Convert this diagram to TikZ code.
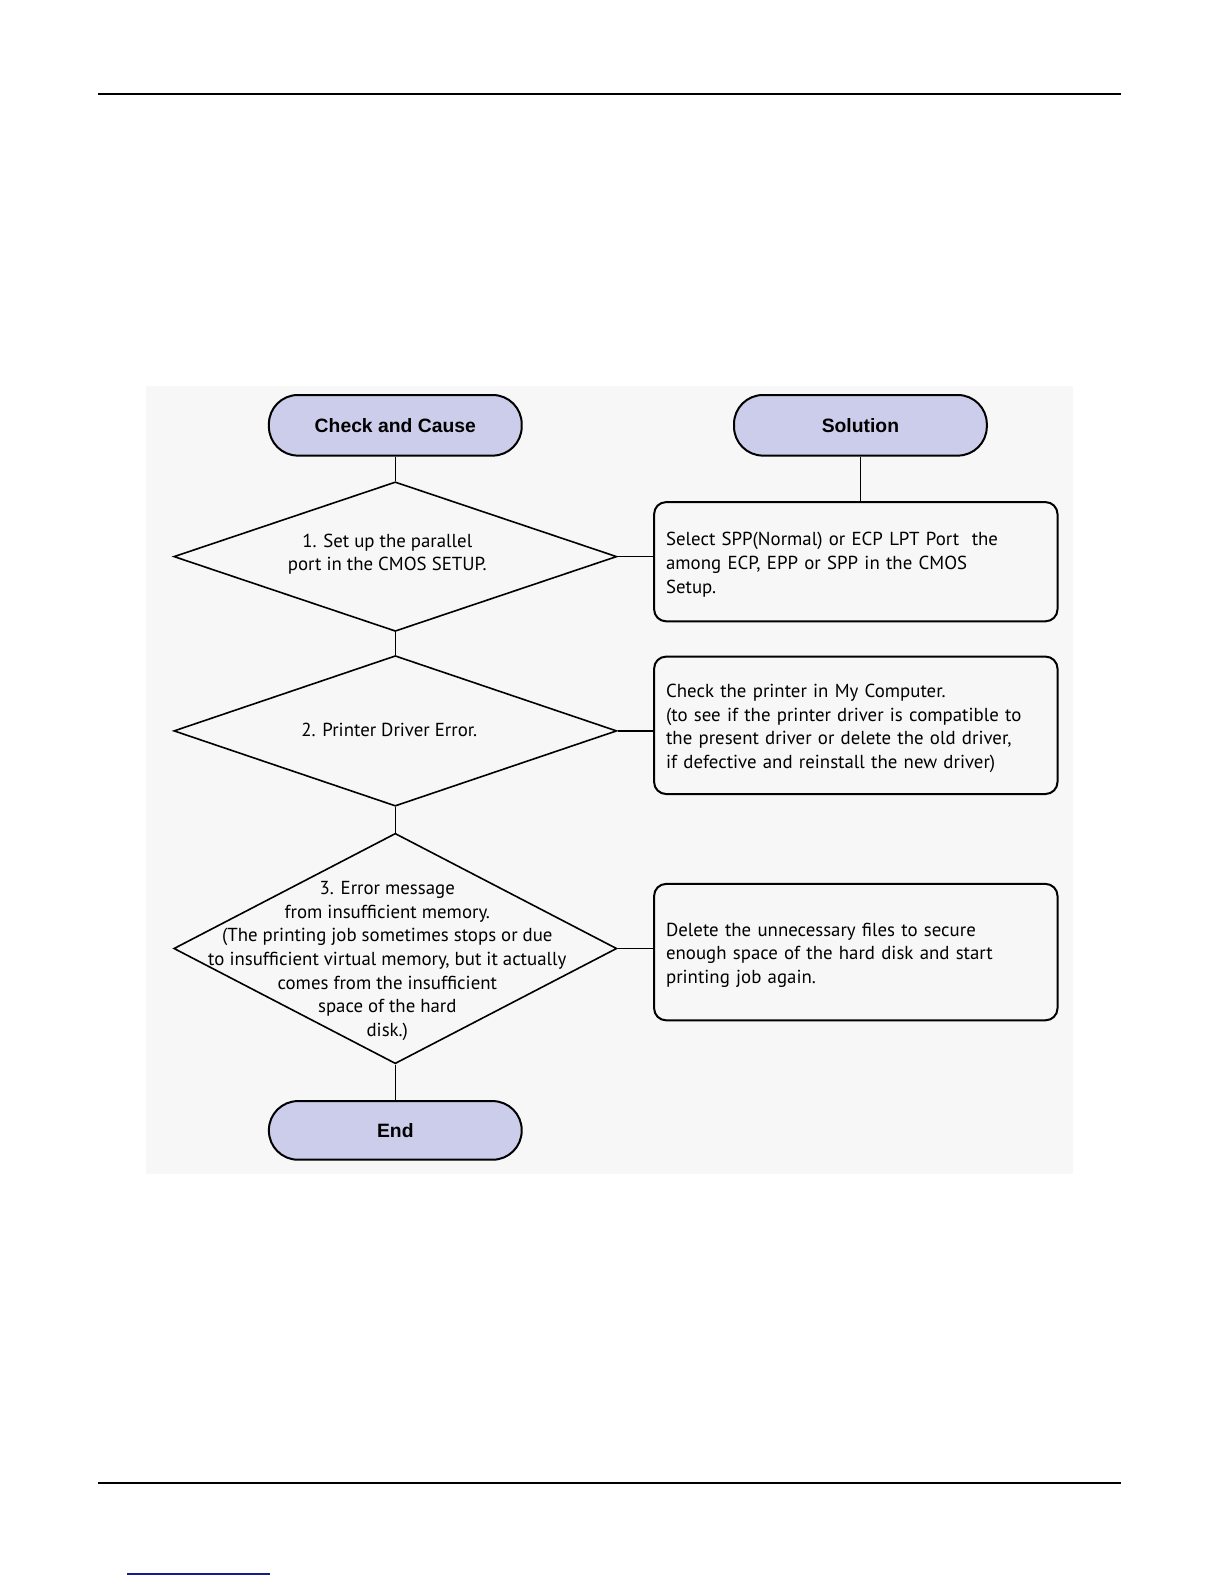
\documentclass[tikz,border=0pt]{standalone}
\usepackage{fontspec}
\setmainfont{PT Sans}
\newfontfamily\termfont{Liberation Sans}
\usetikzlibrary{shapes}
\definecolor{lavender}{RGB}{204,205,235}
\definecolor{linkblue}{RGB}{25,25,140}
\newcommand{\blockend}{\endgraf\vspace*{-3bp}}
\tikzstyle{term} = [rectangle, draw, line width=1bp, fill=lavender, rounded corners=14.5bp,
    minimum width=126.4bp, minimum height=30.3bp, font=\termfont\bfseries\fontsize{9.7}{11}\selectfont]
\tikzstyle{decision} = [diamond, draw, line width=0.8bp, minimum width=221.5bp, inner sep=0pt]
\tikzstyle{block} = [rectangle, draw, line width=1bp, rounded corners=6bp,
    text width=189.7bp, inner xsep=6bp, align=left, font=\fontsize{9.45}{11.9}\selectfont,
    execute at end node=\blockend]
\tikzstyle{words} = [align=center, font=\fontsize{9.45}{11.9}\selectfont]
\tikzstyle{line} = [draw, line width=0.8bp]

\begin{document}
\begin{tikzpicture}[node distance=65.65bp, auto]
		\useasboundingbox (0,0) rectangle (612bp,-792bp);
		\fill [black!3] (72.75bp,-192.95bp) rectangle (536.35bp,-586.9bp);
		\draw [line width=1.3bp] (49bp,-47bp) -- (560.5bp,-47bp);
		\draw [line width=0.8bp] (49bp,-741.5bp) -- (560.5bp,-741.5bp);
		\draw [linkblue, line width=0.8bp] (63.6bp,-787bp) -- (135bp,-787bp);

		\node [term] (check) at (197.65bp,-212.65bp) {Check and Cause};
		\node [term, node distance=232.55bp, right of=check] (solution) {Solution};
		\node [decision, below of=check, minimum height=74.75bp] (cmos) {};
		\node [decision, node distance=87.15bp, below of=cmos, minimum height=75.25bp] (driver) {};
		\node [decision, node distance=108.8bp, below of=driver, minimum height=115.2bp] (memory) {};
		\node [term, node distance=90.95bp, below of=memory, minimum height=29.3bp] (finish) {End};

		\node [words, xshift=-4bp, yshift=1.25bp] (cmostext) at (cmos) {1. Set up the parallel\\port in the CMOS SETUP.};
		\node [words, xshift=-3bp, yshift=0.5bp] (drivertext) at (driver) {2. Printer Driver Error.};
		\node [words, xshift=-4bp, yshift=-6.25bp] (memorytext) at (memory) {3. Error message\\from insufficient memory.\\(The printing job sometimes stops or due\\to insufficient virtual memory, but it actually\\comes from the insufficient\\space of the hard\\disk.)};

		\node [block, minimum height=59.6bp, node distance=230.25bp, right of=cmos, yshift=-2.55bp] (spp)
			{Select SPP(Normal) or ECP LPT Port\ \ the\\among ECP, EPP or SPP in the CMOS\\Setup.};
		\node [block, minimum height=68.7bp, node distance=230.25bp, right of=driver, yshift=2.8bp] (mycomp)
			{Check the printer in My Computer.\\(to see if the printer driver is compatible to\\the present driver or delete the old driver,\\if defective and reinstall the new driver)};
		\node [block, minimum height=68.2bp, node distance=230.25bp, right of=memory, yshift=-1.8bp] (files)
			{Delete the unnecessary files to secure\\enough space of the hard disk and start\\printing job again.};

		\path [line] (check) -- (cmos);
		\path [line] (cmos) -- (driver);
		\path [line] (driver) -- (memory);
		\path [line] (memory) -- (finish);
		\path [line] (solution.south) -- (solution.south |- spp.north);
		\path [line] (cmos.east) -- (cmos.east -| spp.west);
		\path [line] (driver.east) -- (driver.east -| mycomp.west);
		\path [line] (memory.east) -- (memory.east -| files.west);
	\end{tikzpicture}
\end{document}
